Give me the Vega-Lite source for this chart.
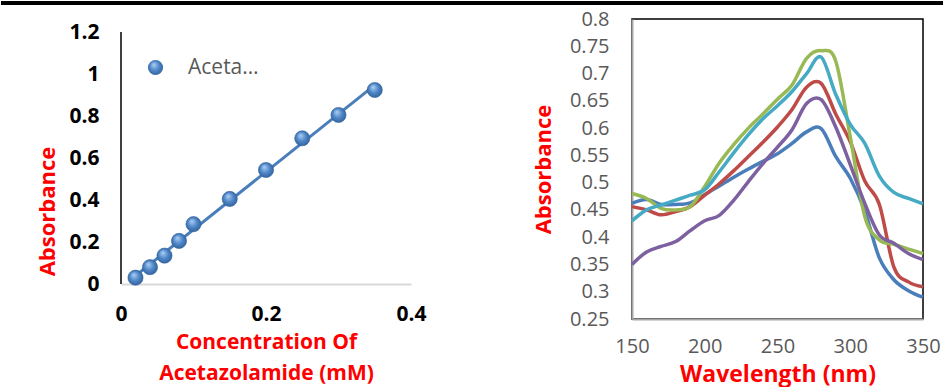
{
  "$schema": "https://vega.github.io/schema/vega-lite/v6.json",
  "background": "white",
  "padding": 0,
  "spacing": 3,
  "config": {
    "font": "Open Sans",
    "axis": {"grid": false, "ticks": false, "labelFlush": false, "labelOverlap": false},
    "legend": {"padding": 0}
  },
  "datasets": {
    "calib": [
      {"conc": 0.02, "abs": 0.03},
      {"conc": 0.04, "abs": 0.08},
      {"conc": 0.06, "abs": 0.135},
      {"conc": 0.08, "abs": 0.205},
      {"conc": 0.10, "abs": 0.285},
      {"conc": 0.15, "abs": 0.405},
      {"conc": 0.20, "abs": 0.543},
      {"conc": 0.25, "abs": 0.694},
      {"conc": 0.30, "abs": 0.805},
      {"conc": 0.35, "abs": 0.924}
    ],
    "spectra": [
      {"s": "S1", "wl": 150, "A": 0.462}, {"s": "S1", "wl": 160, "A": 0.469}, {"s": "S1", "wl": 170, "A": 0.460}, {"s": "S1", "wl": 180, "A": 0.460}, {"s": "S1", "wl": 190, "A": 0.463}, {"s": "S1", "wl": 200, "A": 0.478}, {"s": "S1", "wl": 210, "A": 0.494}, {"s": "S1", "wl": 220, "A": 0.510}, {"s": "S1", "wl": 230, "A": 0.525}, {"s": "S1", "wl": 240, "A": 0.539}, {"s": "S1", "wl": 250, "A": 0.553}, {"s": "S1", "wl": 260, "A": 0.572}, {"s": "S1", "wl": 270, "A": 0.593}, {"s": "S1", "wl": 280, "A": 0.599}, {"s": "S1", "wl": 290, "A": 0.548}, {"s": "S1", "wl": 300, "A": 0.508}, {"s": "S1", "wl": 310, "A": 0.448}, {"s": "S1", "wl": 320, "A": 0.362}, {"s": "S1", "wl": 330, "A": 0.322}, {"s": "S1", "wl": 340, "A": 0.302}, {"s": "S1", "wl": 350, "A": 0.290},
      {"s": "S2", "wl": 150, "A": 0.456}, {"s": "S2", "wl": 160, "A": 0.450}, {"s": "S2", "wl": 170, "A": 0.441}, {"s": "S2", "wl": 180, "A": 0.447}, {"s": "S2", "wl": 190, "A": 0.456}, {"s": "S2", "wl": 200, "A": 0.477}, {"s": "S2", "wl": 210, "A": 0.498}, {"s": "S2", "wl": 220, "A": 0.522}, {"s": "S2", "wl": 230, "A": 0.548}, {"s": "S2", "wl": 240, "A": 0.574}, {"s": "S2", "wl": 250, "A": 0.602}, {"s": "S2", "wl": 260, "A": 0.634}, {"s": "S2", "wl": 270, "A": 0.675}, {"s": "S2", "wl": 280, "A": 0.682}, {"s": "S2", "wl": 290, "A": 0.626}, {"s": "S2", "wl": 300, "A": 0.575}, {"s": "S2", "wl": 310, "A": 0.503}, {"s": "S2", "wl": 320, "A": 0.460}, {"s": "S2", "wl": 330, "A": 0.345}, {"s": "S2", "wl": 340, "A": 0.318}, {"s": "S2", "wl": 350, "A": 0.309},
      {"s": "S3", "wl": 150, "A": 0.480}, {"s": "S3", "wl": 160, "A": 0.471}, {"s": "S3", "wl": 170, "A": 0.453}, {"s": "S3", "wl": 180, "A": 0.450}, {"s": "S3", "wl": 190, "A": 0.456}, {"s": "S3", "wl": 200, "A": 0.493}, {"s": "S3", "wl": 210, "A": 0.536}, {"s": "S3", "wl": 220, "A": 0.570}, {"s": "S3", "wl": 230, "A": 0.600}, {"s": "S3", "wl": 240, "A": 0.626}, {"s": "S3", "wl": 250, "A": 0.653}, {"s": "S3", "wl": 260, "A": 0.679}, {"s": "S3", "wl": 270, "A": 0.728}, {"s": "S3", "wl": 280, "A": 0.742}, {"s": "S3", "wl": 290, "A": 0.723}, {"s": "S3", "wl": 300, "A": 0.584}, {"s": "S3", "wl": 310, "A": 0.438}, {"s": "S3", "wl": 320, "A": 0.395}, {"s": "S3", "wl": 330, "A": 0.387}, {"s": "S3", "wl": 340, "A": 0.378}, {"s": "S3", "wl": 350, "A": 0.370},
      {"s": "S4", "wl": 150, "A": 0.350}, {"s": "S4", "wl": 160, "A": 0.373}, {"s": "S4", "wl": 170, "A": 0.383}, {"s": "S4", "wl": 180, "A": 0.392}, {"s": "S4", "wl": 190, "A": 0.412}, {"s": "S4", "wl": 200, "A": 0.430}, {"s": "S4", "wl": 210, "A": 0.440}, {"s": "S4", "wl": 220, "A": 0.468}, {"s": "S4", "wl": 230, "A": 0.502}, {"s": "S4", "wl": 240, "A": 0.535}, {"s": "S4", "wl": 250, "A": 0.565}, {"s": "S4", "wl": 260, "A": 0.597}, {"s": "S4", "wl": 270, "A": 0.645}, {"s": "S4", "wl": 280, "A": 0.652}, {"s": "S4", "wl": 290, "A": 0.602}, {"s": "S4", "wl": 300, "A": 0.533}, {"s": "S4", "wl": 310, "A": 0.462}, {"s": "S4", "wl": 320, "A": 0.404}, {"s": "S4", "wl": 330, "A": 0.389}, {"s": "S4", "wl": 340, "A": 0.370}, {"s": "S4", "wl": 350, "A": 0.359},
      {"s": "S5", "wl": 150, "A": 0.430}, {"s": "S5", "wl": 160, "A": 0.450}, {"s": "S5", "wl": 170, "A": 0.459}, {"s": "S5", "wl": 180, "A": 0.468}, {"s": "S5", "wl": 190, "A": 0.477}, {"s": "S5", "wl": 200, "A": 0.487}, {"s": "S5", "wl": 210, "A": 0.520}, {"s": "S5", "wl": 220, "A": 0.555}, {"s": "S5", "wl": 230, "A": 0.588}, {"s": "S5", "wl": 240, "A": 0.617}, {"s": "S5", "wl": 250, "A": 0.641}, {"s": "S5", "wl": 260, "A": 0.667}, {"s": "S5", "wl": 270, "A": 0.700}, {"s": "S5", "wl": 280, "A": 0.730}, {"s": "S5", "wl": 290, "A": 0.662}, {"s": "S5", "wl": 300, "A": 0.607}, {"s": "S5", "wl": 310, "A": 0.572}, {"s": "S5", "wl": 320, "A": 0.512}, {"s": "S5", "wl": 330, "A": 0.482}, {"s": "S5", "wl": 340, "A": 0.471}, {"s": "S5", "wl": 350, "A": 0.461}
    ]
  },
  "vconcat": [
    {
      "width": 943,
      "height": 4,
      "view": {"fill": "black", "stroke": null},
      "data": {"values": [{}]},
      "mark": {"type": "rule", "opacity": 0},
      "encoding": {}
    },
    {
      "spacing": 104,
      "hconcat": [
        {
          "spacing": 34,
          "resolve": {"legend": {"shape": "independent"}},
          "hconcat": [
            {
              "width": 1,
              "height": 1,
              "view": {"stroke": null},
              "data": {"values": [{}]},
              "mark": {"type": "rule", "opacity": 0},
              "encoding": {}
            },
            {
              "width": 290,
              "height": 265,
              "view": {"stroke": null},
              "data": {"name": "calib"},
              "layer": [
                {
                  "data": {"values": [{}]},
                  "mark": {"type": "rule", "color": "black", "strokeWidth": 1.5},
                  "encoding": {
                    "x": {"datum": 0, "type": "quantitative"},
                    "y": {"datum": 0, "type": "quantitative"},
                    "y2": {"datum": 1.2}
                  }
                },
                {
                  "transform": [{"regression": "abs", "on": "conc"}],
                  "mark": {"type": "line", "color": "#4a7ebb", "strokeWidth": 3},
                  "encoding": {
                    "x": {"field": "conc", "type": "quantitative"},
                    "y": {"field": "abs", "type": "quantitative"}
                  }
                },
                {
                  "mark": {
                    "type": "point",
                    "filled": true,
                    "size": 230,
                    "opacity": 1,
                    "fill": {
                      "gradient": "radial",
                      "x1": 0.38, "y1": 0.3, "r1": 0.02,
                      "x2": 0.5, "y2": 0.5, "r2": 0.6,
                      "stops": [
                        {"offset": 0, "color": "#a8cdf5"},
                        {"offset": 0.5, "color": "#4f86c6"},
                        {"offset": 1, "color": "#2a5a94"}
                      ]
                    },
                    "stroke": "#2f5f98",
                    "strokeWidth": 0.6
                  },
                  "encoding": {
                    "x": {
                      "field": "conc",
                      "type": "quantitative",
                      "scale": {"domain": [0, 0.4], "nice": false},
                      "axis": {
                        "values": [0, 0.2, 0.4],
                        "format": ".1~f",
                        "domainColor": "#d9d9d9",
                        "domainWidth": 2,
                        "labelFontSize": 21,
                        "labelFontWeight": "bold",
                        "labelColor": "black",
                        "labelPadding": 19,
                        "title": ["Concentration Of", "Acetazolamide (mM)"],
                        "titleColor": "#ff0000",
                        "titleFontSize": 21,
                        "titleFontWeight": "bold",
                        "titleLineHeight": 31,
                        "titlePadding": 7
                      }
                    },
                    "y": {
                      "field": "abs",
                      "type": "quantitative",
                      "scale": {"domain": [0, 1.262], "nice": false},
                      "axis": {
                        "values": [0, 0.2, 0.4, 0.6, 0.8, 1, 1.2],
                        "format": "~g",
                        "domain": false,
                        "labelFontSize": 21,
                        "labelFontWeight": "bold",
                        "labelColor": "black",
                        "labelPadding": 22,
                        "title": "Absorbance",
                        "titleColor": "#ff0000",
                        "titleFontSize": 22,
                        "titleFontWeight": "bold",
                        "titleX": -62,
                        "titleY": 192
                      }
                    },
                    "shape": {
                      "datum": "Acetazolamide",
                      "scale": {"range": ["circle"]},
                      "legend": {
                        "orient": "none",
                        "legendX": 24,
                        "legendY": 38,
                        "title": null,
                        "labelFont": "Open Sans",
                        "labelFontSize": 21,
                        "labelColor": "#595959",
                        "labelLimit": 74,
                        "labelOffset": 22,
                        "symbolSize": 230,
                        "symbolFillColor": "#4f81bd",
                        "symbolStrokeColor": "#2f5f98",
                        "symbolStrokeWidth": 0.6
                      }
                    }
                  }
                }
              ]
            }
          ]
        },
        {
          "width": 291,
          "height": 300,
          "view": {"stroke": "black", "strokeWidth": 1.5},
          "data": {"name": "spectra"},
          "mark": {"type": "line", "interpolate": "cardinal", "strokeWidth": 3.5},
          "encoding": {
            "x": {
              "field": "wl",
              "type": "quantitative",
              "scale": {"domain": [150, 350], "nice": false},
              "axis": {
                "values": [150, 200, 250, 300, 350],
                "domainColor": "#a6a6a6",
                "domainWidth": 2,
                "labelFontSize": 20,
                "labelColor": "#595959",
                "labelPadding": 17,
                "title": "Wavelength (nm)",
                "titleColor": "#ff0000",
                "titleFontSize": 23,
                "titleFontWeight": "bold",
                "titlePadding": 7
              }
            },
            "y": {
              "field": "A",
              "type": "quantitative",
              "scale": {"domain": [0.25, 0.8], "nice": false, "zero": false},
              "axis": {
                "values": [0.25, 0.3, 0.35, 0.4, 0.45, 0.5, 0.55, 0.6, 0.65, 0.7, 0.75, 0.8],
                "format": ".2~f",
                "domainColor": "#a6a6a6",
                "domainWidth": 2,
                "labelFontSize": 20,
                "labelColor": "#595959",
                "labelPadding": 23,
                "title": "Absorbance",
                "titleColor": "#ff0000",
                "titleFontSize": 22,
                "titleFontWeight": "bold",
                "titleX": -77
              }
            },
            "color": {
              "field": "s",
              "type": "nominal",
              "scale": {"domain": ["S1", "S2", "S3", "S4", "S5"], "range": ["#4a7ebb", "#be4b48", "#98b954", "#7d60a0", "#46aac5"]},
              "legend": null
            }
          }
        }
      ]
    }
  ]
}
